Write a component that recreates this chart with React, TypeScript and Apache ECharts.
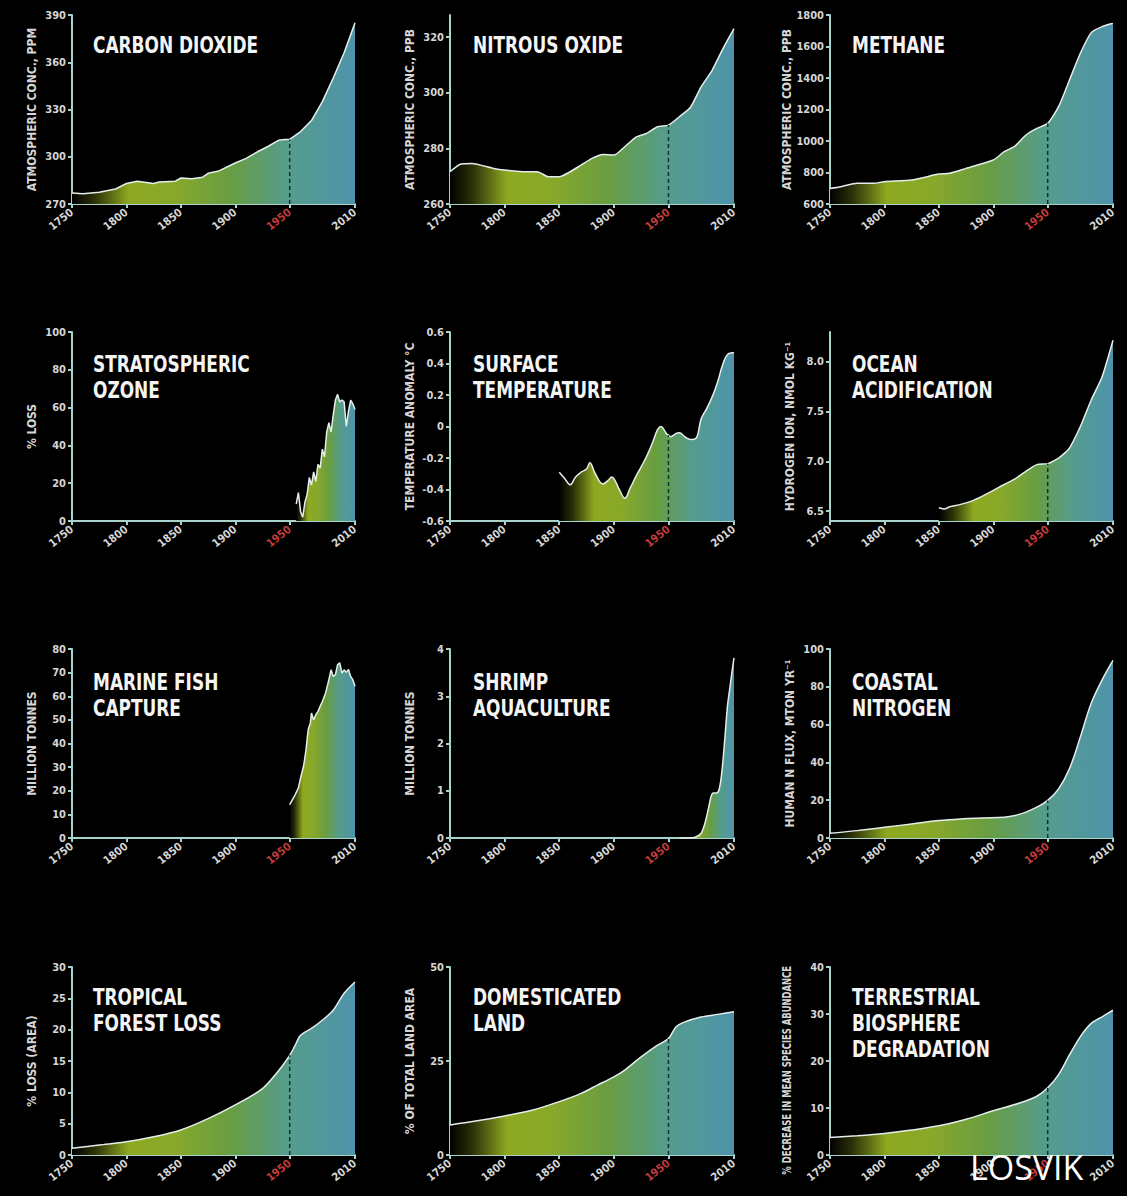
import React, { useEffect, useRef } from "react";
import * as echarts from "echarts";

// ---------- DATA ----------
const yearTicks = [1750, 1800, 1850, 1900, 1950, 2010];

const co2 = [[1750,277],[1760,276.5],[1775,277.5],[1790,279.5],[1800,283],[1810,284.5],[1825,283],[1830,284],[1845,284.5],[1850,286.5],[1860,286],[1870,287],[1875,289.5],[1885,291],[1900,296],[1910,299],[1920,303],[1930,306.5],[1940,310.5],[1945,311],[1950,311],[1960,316],[1970,323],[1980,335],[1990,350],[2000,366],[2010,385]];
const n2o = [[1750,271.6],[1760,274.4],[1770,274.6],[1790,272.8],[1800,272.2],[1820,271.6],[1830,271.6],[1840,269.8],[1850,269.8],[1860,271.6],[1870,274],[1880,276.4],[1890,277.8],[1900,277.6],[1910,280.6],[1920,284],[1930,285.4],[1940,287.8],[1950,288.4],[1960,291.4],[1970,294.7],[1980,302.2],[1990,308.1],[2000,316],[2010,323.1]];
const ch4 = [[1750,699],[1760,710],[1775,731],[1790,731],[1800,742],[1825,752],[1850,790],[1860,795],[1875,826],[1900,879],[1910,932],[1920,968],[1930,1038],[1940,1080],[1950,1112],[1960,1218],[1970,1387],[1980,1557],[1990,1688],[2000,1726],[2010,1747]];
const ozone = [[1956,9],[1958,15],[1960,5],[1962,2],[1964,10],[1966,14],[1968,23],[1970,19],[1972,26],[1974,21],[1976,30],[1978,28],[1980,38],[1982,34],[1984,47],[1986,52],[1988,47],[1990,56],[1992,64],[1994,67],[1996,63],[1998,64],[2000,63],[2002,50],[2004,58],[2006,64],[2008,62],[2010,59]];
const temperature = [[1850,-0.29],[1855,-0.33],[1860,-0.37],[1865,-0.32],[1870,-0.29],[1875,-0.27],[1878,-0.23],[1883,-0.3],[1890,-0.365],[1895,-0.34],[1898,-0.32],[1905,-0.4],[1910,-0.456],[1915,-0.39],[1920,-0.32],[1925,-0.256],[1930,-0.19],[1935,-0.11],[1940,-0.02],[1943,0],[1948,-0.044],[1950,-0.055],[1952,-0.065],[1957,-0.044],[1960,-0.04],[1965,-0.065],[1970,-0.082],[1975,-0.076],[1980,0.05],[1985,0.114],[1990,0.188],[1995,0.283],[2000,0.4],[2005,0.463],[2010,0.469]];
const oceanAcid = [[1850,6.533],[1855,6.52],[1860,6.543],[1870,6.567],[1880,6.6],[1890,6.65],[1900,6.707],[1910,6.767],[1920,6.823],[1930,6.9],[1940,6.967],[1950,6.977],[1960,7.033],[1965,7.077],[1970,7.133],[1980,7.35],[1990,7.617],[2000,7.85],[2010,8.217]];
const fishCapture = [[1950,14.1],[1955,18.3],[1958,21.2],[1960,25.4],[1963,31],[1965,37.4],[1967,45.9],[1969,48.7],[1970,52.9],[1972,50],[1974,52.2],[1976,53.6],[1978,55.7],[1980,57.8],[1983,61.4],[1986,67],[1988,71.2],[1990,68.4],[1992,69.1],[1994,73.4],[1996,74.1],[1998,69.8],[2000,71.2],[2002,70.1],[2004,71.3],[2006,68.4],[2008,67],[2010,64.2]];
const shrimp = [[1960,0],[1970,0],[1975,0.02],[1980,0.1],[1983,0.28],[1985,0.46],[1987,0.67],[1989,0.88],[1991,0.95],[1994,0.95],[1996,1.0],[1998,1.23],[2000,1.66],[2002,2.22],[2004,2.79],[2006,3.14],[2008,3.49],[2010,3.81]];
const coastalN = [[1750,2.5],[1775,3.9],[1800,5.7],[1825,7.4],[1850,9.2],[1870,10.1],[1890,10.6],[1910,11],[1920,11.9],[1930,13.7],[1940,16.3],[1950,19.9],[1960,26],[1970,36.7],[1980,53.5],[1990,71.3],[2000,83.7],[2010,94]];
const forestLoss = [[1750,1.06],[1775,1.6],[1800,2.1],[1825,2.9],[1850,4.0],[1875,5.8],[1900,8.0],[1925,10.6],[1940,13.5],[1950,15.9],[1955,17.5],[1960,19.1],[1970,20.2],[1980,21.5],[1990,23.1],[2000,25.8],[2010,27.6]];
const domesticated = [[1750,8.0],[1775,9.1],[1800,10.4],[1825,11.9],[1850,14.2],[1870,16.4],[1885,18.6],[1900,20.8],[1910,22.6],[1925,26.1],[1940,29.2],[1950,31.0],[1957,34.1],[1965,35.4],[1980,36.7],[1995,37.4],[2010,38.1]];
const biosphere = [[1750,3.7],[1775,4.1],[1800,4.6],[1825,5.3],[1850,6.2],[1875,7.6],[1900,9.4],[1925,11.1],[1940,12.5],[1950,14.3],[1960,17.1],[1970,21.3],[1980,25.2],[1990,28.0],[2000,29.4],[2010,30.8]];

const titles = [
  "CARBON DIOXIDE", "NITROUS OXIDE", "METHANE",
  "STRATOSPHERIC\nOZONE", "SURFACE\nTEMPERATURE", "OCEAN\nACIDIFICATION",
  "MARINE FISH\nCAPTURE", "SHRIMP\nAQUACULTURE", "COASTAL\nNITROGEN",
  "TROPICAL\nFOREST LOSS", "DOMESTICATED\nLAND", "TERRESTRIAL\nBIOSPHERE\nDEGRADATION",
];
const yNames = [
  "ATMOSPHERIC CONC., PPM", "ATMOSPHERIC CONC., PPB", "ATMOSPHERIC CONC., PPB",
  "% LOSS", "TEMPERATURE ANOMALY °C", "HYDROGEN ION, NMOL KG⁻¹",
  "MILLION TONNES", "MILLION TONNES", "HUMAN N FLUX, MTON YR⁻¹",
  "% LOSS (AREA)", "% OF TOTAL LAND AREA", "",
];
const lastYName = "% DECREASE IN MEAN SPECIES ABUNDANCE";
const yMins = [270, 260, 600, 0, -0.6, 6.4, 0, 0, 0, 0, 0, 0];
const yMaxs = [390, 328, 1800, 100, 0.6, 8.3, 80, 4, 100, 30, 50, 40];
const yTickValues = [
  [270, 300, 330, 360, 390], [260, 280, 300, 320], [600, 800, 1000, 1200, 1400, 1600, 1800],
  [0, 20, 40, 60, 80, 100], [-0.6, -0.4, -0.2, 0, 0.2, 0.4, 0.6], [6.5, 7.0, 7.5, 8.0],
  [0, 10, 20, 30, 40, 50, 60, 70, 80], [0, 1, 2, 3, 4], [0, 20, 40, 60, 80, 100],
  [0, 5, 10, 15, 20, 25, 30], [0, 25, 50], [0, 10, 20, 30, 40],
];
const seriesData = [co2, n2o, ch4, ozone, temperature, oceanAcid, fishCapture, shrimp, coastalN, forestLoss, domesticated, biosphere];
const hasDashed1950 = [true, true, true, false, true, true, false, false, true, true, true, true];
const smoothness = [0, 0.2, 0.2, 0, 0.4, 0.2, 0, 0.2, 0.4, 0.3, 0.3, 0.3];

// ---------- LAYOUT / STYLE ----------
const FONT = "'DejaVu Sans Condensed', 'Noto Sans', sans-serif";
const colLefts = [72, 450, 830];
const colWidths = [283, 284, 283];
const rowTops = [15, 332, 649, 967];
const rowHeights = [189, 189, 189, 188];
const titleLefts = [93, 473, 852];
const titleTops = [32, 351, 669, 984];
const AXIS = "#a6d4cc";
const LABEL = "#d6d6d6";

function fmt(v: number, i: number) {
  if (i === 4) return v === 0 ? "0" : v.toFixed(1);
  if (i === 5) return v.toFixed(1);
  return String(v);
}

export default function App() {
  const ref = useRef<HTMLDivElement>(null);
  useEffect(() => {
    document.body.style.margin = "0";
    document.body.style.background = "#000";
    const chart = echarts.init(ref.current!, undefined, { renderer: "svg" });

    const grid: any[] = [];
    const xAxis: any[] = [];
    const yAxis: any[] = [];
    const series: any[] = [];
    const graphic: any[] = [];

    for (let i = 0; i < 12; i++) {
      const r = Math.floor(i / 3);
      const c = i % 3;
      grid.push({ left: colLefts[c], top: rowTops[r], width: colWidths[c], height: rowHeights[r] });
      xAxis.push({
        gridIndex: i, type: "value", min: 1750, max: 2010,
        axisLine: { show: true, onZero: false, lineStyle: { color: AXIS, width: 2 } },
        axisTick: { show: true, customValues: yearTicks, length: 4, lineStyle: { color: AXIS, width: 2 } },
        axisLabel: {
          customValues: yearTicks, rotate: 38, margin: 7,
          formatter: (v: number) => (v === 1950 ? `{r|${v}}` : `{w|${v}}`),
          rich: {
            w: { color: LABEL, fontSize: 11, fontWeight: "bold", fontFamily: FONT },
            r: { color: "#c43c3c", fontSize: 11, fontWeight: "bold", fontFamily: FONT },
          },
        },
        splitLine: { show: false },
      });
      yAxis.push({
        gridIndex: i, type: "value", min: yMins[i], max: yMaxs[i],
        axisLine: { show: true, onZero: false, lineStyle: { color: AXIS, width: 2 } },
        axisTick: { show: true, customValues: yTickValues[i], length: 4, lineStyle: { color: AXIS, width: 2 } },
        axisLabel: {
          customValues: yTickValues[i], margin: 6, color: LABEL, fontSize: 11, fontWeight: "bold", fontFamily: FONT,
          formatter: (v: number) => fmt(v, i),
        },
        splitLine: { show: false },
        name: yNames[i], nameLocation: "middle", nameRotate: 90, nameGap: 34,
        nameTextStyle: { color: LABEL, fontSize: 12, fontWeight: "bold", fontFamily: FONT },
      });
      series.push({
        type: "line", xAxisIndex: i, yAxisIndex: i, data: seriesData[i],
        symbol: "none", showSymbol: false, smooth: smoothness[i] || false,
        lineStyle: { color: "#e4eeec", width: 1.5 },
        areaStyle: {
          origin: "start", opacity: 1,
          color: new echarts.graphic.LinearGradient(0, 0, 1, 0, [
            { offset: 0, color: "#000000" },
            { offset: 0.08, color: "#2c3208" },
            { offset: 0.2, color: "#8ea820" },
            { offset: 0.36, color: "#88a82a" },
            { offset: 0.56, color: "#689d42" },
            { offset: 0.76, color: "#559c8c" },
            { offset: 1, color: "#4e93ab" },
          ]),
        },
        silent: true, z: 2,
      });
      if (hasDashed1950[i]) {
        const pt = seriesData[i].find((d) => d[0] === 1950);
        if (pt) {
          series.push({
            type: "line", xAxisIndex: i, yAxisIndex: i,
            data: [[1950, yMins[i]], [1950, pt[1]]],
            symbol: "none", silent: true, z: 3,
            lineStyle: { color: "#15302a", width: 1.5, type: [4, 3] },
          });
        }
      }
      graphic.push({
        type: "text", x: titleLefts[c], y: titleTops[r], scaleX: 0.82, silent: true,
        style: {
          text: titles[i], fill: "#f4f4f4", fontSize: 23, fontWeight: "bold", fontFamily: FONT,
          lineHeight: 26, align: "left", verticalAlign: "top",
        },
      });
    }

    graphic.push({
      type: "text", x: 787, y: 966, rotation: Math.PI / 2, scaleX: 0.78, silent: true,
      style: { text: lastYName, fill: LABEL, fontSize: 12, fontWeight: "bold", fontFamily: FONT, align: "right", verticalAlign: "middle" },
    });
    graphic.push({
      type: "text", x: 970, y: 1150, silent: true, z: 100,
      style: { text: "LOSVIK", fill: "#ffffff", fontSize: 34, lineHeight: 34, fontFamily: "'Open Sans', sans-serif", align: "left", verticalAlign: "top" },
    });

    chart.setOption({
      animation: false,
      backgroundColor: "#000",
      grid, xAxis, yAxis, series, graphic,
    });
    return () => chart.dispose();
  }, []);
  return <div ref={ref} style={{ width: 1127, height: 1196, background: "#000" }} />;
}
